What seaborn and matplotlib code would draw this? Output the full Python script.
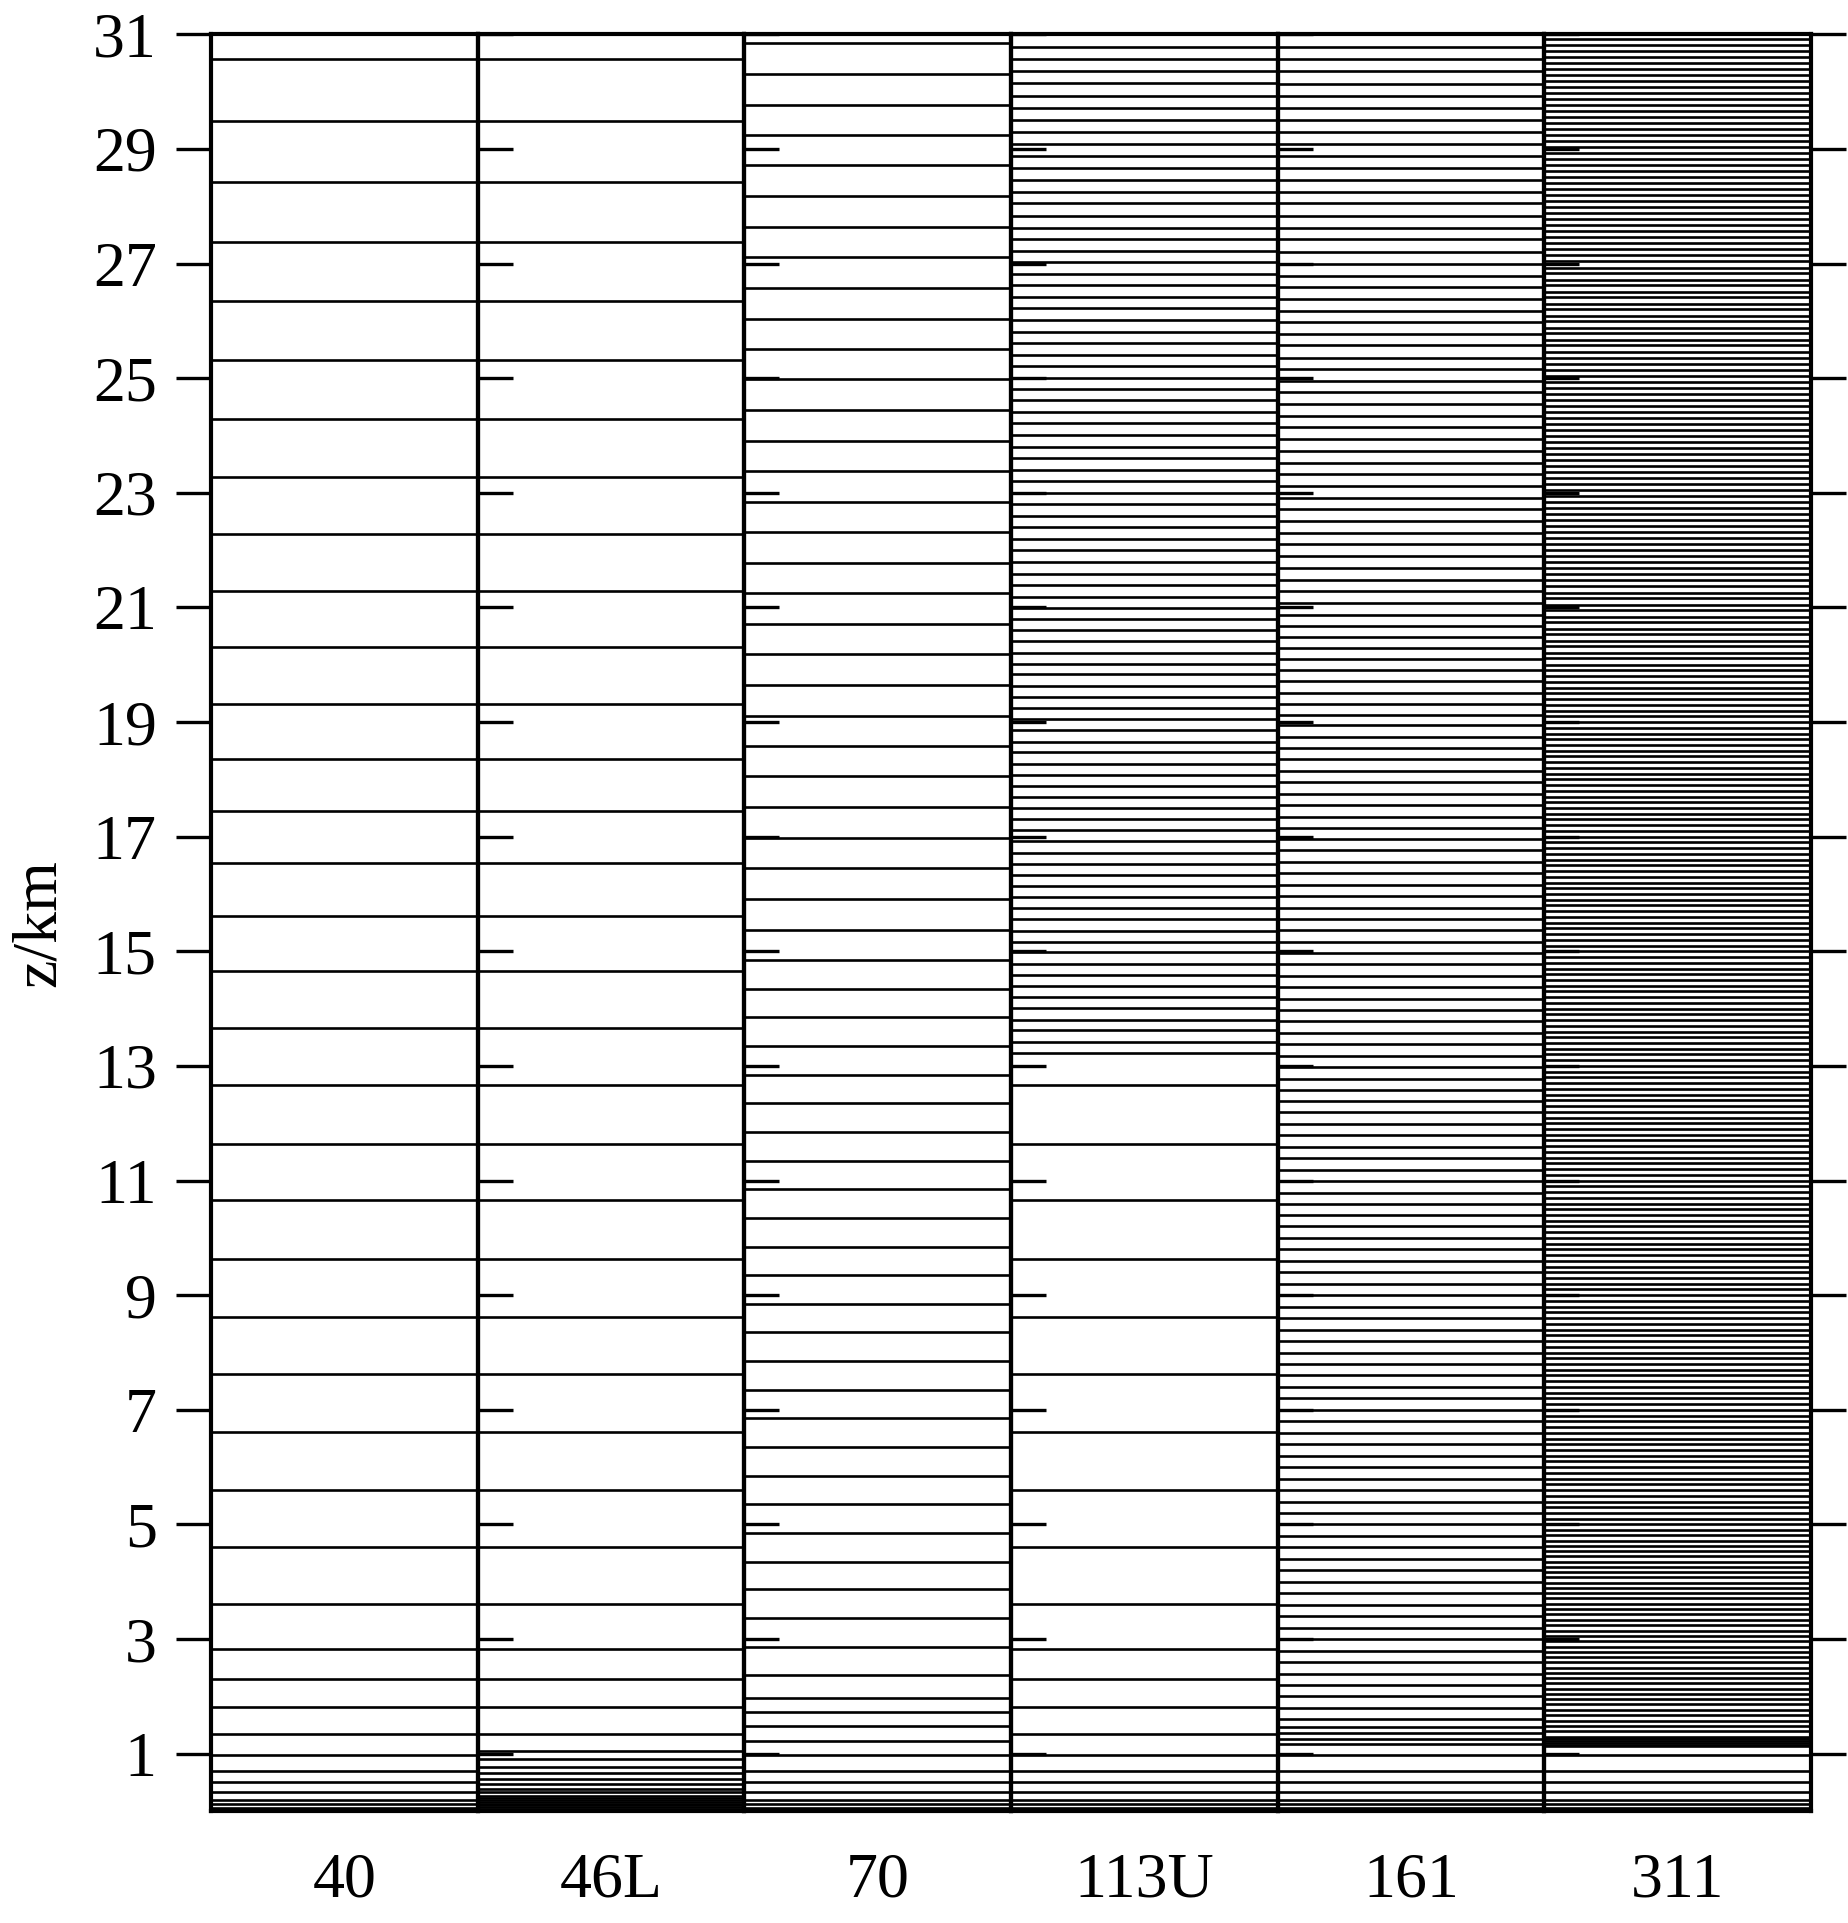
import matplotlib
matplotlib.use("Agg")
import matplotlib.pyplot as plt
import pandas as pd
import seaborn as sns

models = ["40", "46L", "70", "113U", "161", "311"]

levels_40 = [0.05, 0.12, 0.20, 0.33, 0.50, 0.70, 0.98, 1.35, 1.82, 2.31, 2.82, 3.61,
             4.60, 5.61, 6.61, 7.62, 8.62, 9.63, 10.66, 11.64, 12.67, 13.67, 14.66,
             15.62, 16.54, 17.44, 18.36, 19.32, 20.31, 21.29, 22.28, 23.28, 24.29,
             25.32, 26.34, 27.37, 28.42, 29.49, 30.56]

levels_46L_low = [0.01, 0.04, 0.07, 0.10, 0.13, 0.16, 0.19, 0.22, 0.27, 0.33, 0.39,
                  0.47, 0.56, 0.66, 0.77, 0.90, 1.04]
levels_46L_high = [1.35, 1.82, 2.31, 2.82, 3.61, 4.60, 5.61, 6.61, 7.62, 8.62, 9.63,
                   10.66, 11.64, 12.67, 13.67, 14.66, 15.62, 16.54, 17.44, 18.36,
                   19.32, 20.31, 21.29, 22.28, 23.28, 24.29, 25.32, 26.34, 27.37,
                   28.42, 29.49, 30.56]

levels_70 = [0.05, 0.12, 0.20, 0.33, 0.50, 0.70, 0.98, 1.23, 1.48, 1.72, 1.98, 2.37,
             2.86, 3.36, 3.87, 4.35, 4.85, 5.35, 5.85, 6.35, 6.85, 7.35, 7.85, 8.35,
             8.85, 9.35, 9.85, 10.35, 10.85, 11.35, 11.85, 12.35, 12.85, 13.35, 13.85,
             14.35, 14.85, 15.38, 15.92, 16.45, 16.98, 17.52, 18.05, 18.58, 19.11,
             19.65, 20.18, 20.71, 21.25, 21.78, 22.31, 22.84, 23.38, 23.91, 24.44,
             24.98, 25.51, 26.04, 26.57, 27.11, 27.64, 28.17, 28.71, 29.24, 29.77,
             30.30, 30.84]

levels_113U_low = [0.05, 0.12, 0.20, 0.33, 0.50, 0.70, 0.98, 1.35, 1.82, 2.31, 2.82,
                   3.61, 4.60, 5.61, 6.61, 7.62, 8.62, 9.63, 10.66, 11.64, 12.67]
levels_113U_high = [13.23, 13.42, 13.62, 13.81, 14.01, 14.20, 14.39, 14.59, 14.78,
                    14.98, 15.17, 15.36, 15.56, 15.75, 15.95, 16.14, 16.33, 16.53,
                    16.72, 16.92, 17.11, 17.30, 17.50, 17.69, 17.89, 18.08, 18.27,
                    18.47, 18.66, 18.86, 19.05, 19.24, 19.44, 19.63, 19.83, 20.02,
                    20.21, 20.41, 20.60, 20.80, 20.99, 21.19, 21.39, 21.59, 21.79,
                    22.00, 22.20, 22.40, 22.60, 22.80, 23.00, 23.20, 23.40, 23.60,
                    23.80, 24.01, 24.21, 24.41, 24.61, 24.81, 25.01, 25.21, 25.41,
                    25.61, 25.81, 26.02, 26.22, 26.42, 26.62, 26.82, 27.02, 27.22,
                    27.43, 27.62, 27.83, 28.05, 28.25, 28.46, 28.67, 28.88, 29.09,
                    29.30, 29.51, 29.72, 29.92, 30.15, 30.36, 30.57, 30.78]

levels_161 = [0.05, 0.12, 0.20, 0.33, 0.50, 0.70, 0.98, 1.17, 1.26, 1.36, 1.47,
              1.60, 1.80, 2.00, 2.20, 2.40, 2.60, 2.80, 3.00, 3.20, 3.40, 3.60, 3.80,
              4.00, 4.20, 4.40, 4.60, 4.80, 5.00, 5.20, 5.40, 5.60, 5.80, 6.00, 6.20,
              6.40, 6.60, 6.80, 7.00, 7.20, 7.40, 7.60, 7.80, 8.00, 8.20, 8.40, 8.60,
              8.80, 9.00, 9.20, 9.40, 9.60, 9.80, 10.00,
              10.20, 10.40, 10.60, 10.79, 10.99, 11.19, 11.39, 11.59, 11.79, 11.99,
              12.19, 12.38, 12.58, 12.78, 12.98, 13.18, 13.38, 13.58, 13.78, 13.97,
              14.17, 14.37, 14.57, 14.77, 14.97, 15.17, 15.37, 15.56, 15.76, 15.96,
              16.16, 16.36, 16.56, 16.76, 16.96, 17.15, 17.35, 17.55, 17.75, 17.95,
              18.15, 18.35, 18.54, 18.74, 18.94,
              19.13, 19.32, 19.51, 19.71, 19.90, 20.10, 20.29, 20.48, 20.68, 20.87,
              21.07, 21.28, 21.48, 21.69, 21.89, 22.10, 22.30, 22.50, 22.71, 22.91,
              23.12, 23.32, 23.52, 23.73, 23.93, 24.14, 24.34, 24.55, 24.75, 24.95,
              25.16, 25.36, 25.57, 25.77, 25.98, 26.18, 26.38, 26.59, 26.79, 27.00,
              27.20, 27.42, 27.62, 27.83, 28.05, 28.25, 28.46, 28.67, 28.88, 29.08,
              29.29, 29.51, 29.72, 29.92, 30.14, 30.35, 30.57, 30.78]

levels_311 = [0.05, 0.12, 0.20, 0.33, 0.50, 0.70, 0.98, 1.13, 1.16, 1.19, 1.22, 1.25, 1.28,
              1.30, 1.39, 1.49, 1.58, 1.67, 1.76, 1.86, 1.95, 2.04, 2.13, 2.23, 2.32,
              2.41, 2.50, 2.60, 2.69, 2.78, 2.87, 2.97, 3.06, 3.15, 3.24, 3.34, 3.43,
              3.52, 3.61, 3.71, 3.80, 3.89, 3.98, 4.08, 4.17, 4.26, 4.35, 4.45, 4.54,
              4.63, 4.72, 4.82, 4.91, 5.00,
              5.1, 5.2, 5.3, 5.4, 5.5, 5.6, 5.7, 5.8, 5.9, 6.0,
              6.1, 6.2, 6.3, 6.4, 6.5, 6.6, 6.7, 6.8, 6.9, 7.0,
              7.1, 7.2, 7.3, 7.4, 7.5, 7.6, 7.7, 7.8, 7.9, 8.0,
              8.1, 8.2, 8.3, 8.4, 8.5, 8.6, 8.7, 8.8, 8.9, 9.0,
              9.1, 9.2, 9.3, 9.4, 9.5, 9.6, 9.7, 9.8, 9.9, 10.0,
              10.1, 10.2, 10.3, 10.4, 10.5, 10.6, 10.7, 10.8, 10.9, 11.0,
              11.1, 11.2, 11.3, 11.4, 11.5, 11.6, 11.7, 11.8, 11.9, 12.0,
              12.1, 12.2, 12.3, 12.4, 12.5, 12.6, 12.7, 12.8, 12.9, 13.0,
              13.1, 13.2, 13.3, 13.4, 13.5, 13.6, 13.7, 13.8, 13.9, 14.0,
              14.1, 14.2, 14.3, 14.4, 14.5, 14.6, 14.7, 14.8, 14.9, 15.0,
              15.1, 15.2, 15.3, 15.4, 15.5, 15.6, 15.7, 15.8, 15.9, 16.0,
              16.1, 16.2, 16.3, 16.4, 16.5, 16.6, 16.7, 16.8, 16.9, 17.0,
              17.1, 17.2, 17.3, 17.4, 17.5, 17.6, 17.7, 17.8, 17.9, 18.0,
              18.1, 18.2, 18.3, 18.4, 18.5, 18.6, 18.7, 18.8, 18.9, 19.0,
              19.1, 19.2, 19.3, 19.4, 19.5, 19.6, 19.7, 19.8, 19.9, 20.0,
              20.11, 20.21, 20.32, 20.42, 20.53, 20.63, 20.74, 20.84, 20.95, 21.05,
              21.16, 21.26, 21.37, 21.47, 21.58, 21.68, 21.79, 21.89, 22.00, 22.10,
              22.21, 22.31, 22.42, 22.52, 22.63, 22.73, 22.84, 22.94, 23.05, 23.15,
              23.26, 23.36, 23.47, 23.57, 23.68, 23.78, 23.89, 23.99, 24.10, 24.20,
              24.31, 24.41, 24.52, 24.62, 24.73, 24.83, 24.94, 25.04, 25.15, 25.25,
              25.36, 25.46, 25.57, 25.67, 25.78, 25.88, 25.99, 26.09, 26.20, 26.30,
              26.41, 26.51, 26.62, 26.72, 26.83, 26.93, 27.04, 27.14, 27.25, 27.35,
              27.46, 27.56, 27.67, 27.77, 27.88, 27.98, 28.09, 28.19, 28.30, 28.40,
              28.51, 28.61, 28.72, 28.82, 28.93, 29.03, 29.14, 29.24, 29.35, 29.45,
              29.56, 29.66, 29.77, 29.87, 29.98, 30.08, 30.19, 30.29, 30.40, 30.50,
              30.61, 30.71, 30.82, 30.92]

ytick_values = [1, 3, 5, 7, 9, 11, 13, 15, 17, 19, 21, 23, 25, 27, 29, 31]
ylabel_text = "z/km"

model_levels = {
    "40": levels_40,
    "46L": levels_46L_low + levels_46L_high,
    "70": levels_70,
    "113U": levels_113U_low + levels_113U_high,
    "161": levels_161,
    "311": levels_311,
}

# long table: each level is a segment spanning the whole column (x = 0 .. 1)
rows = []
for m in models:
    for i, z in enumerate(model_levels[m]):
        rows.append((m, i, 0.0, z))
        rows.append((m, i, 1.0, z))
df = pd.DataFrame(rows, columns=["model", "uid", "x", "z"])

sns.set_style("white", rc={"text.color": "black", "axes.labelcolor": "black",
                           "xtick.color": "black", "ytick.color": "black",
                           "axes.edgecolor": "black"})
plt.rcParams["font.family"] = ["Liberation Serif", "DejaVu Serif"]

FS = 46
fig, axes = plt.subplots(1, 6, figsize=(18.48, 19.23), dpi=100, sharey=True)
fig.subplots_adjust(left=0.1142, right=0.98, top=0.9822, bottom=0.0582, wspace=0)

for k, (ax, m) in enumerate(zip(axes, models)):
    sub = df[df["model"] == m]
    sns.lineplot(data=sub, x="x", y="z", units="uid", estimator=None, sort=False,
                 color="black", linewidth=1.9, ax=ax, legend=False)
    ax.set_xlim(0, 1)
    ax.set_ylim(0, 31)
    ax.set_facecolor("none")
    ax.set_xticks([0.5])
    ax.set_xticklabels([m])
    ax.tick_params(axis="x", length=0, pad=30, labelsize=FS, labelcolor="black")
    ax.set_xlabel("")
    ax.set_ylabel("")
    ax.set_yticks(ytick_values)
    ax.tick_params(axis="y", which="major", direction="out", length=25, width=2.4,
                   right=True, left=(k == 0), labelleft=(k == 0), labelright=False,
                   labelsize=FS, pad=14, color="black", labelcolor="black")
    for sp in ax.spines.values():
        sp.set_visible(True)
        sp.set_linewidth(3.0)
        sp.set_color("black")

axes[0].set_ylabel(ylabel_text, fontsize=FS, color="black")
axes[0].yaxis.set_label_coords(-0.535, 0.5)

fig.savefig("out.png", dpi=100, facecolor="white")
